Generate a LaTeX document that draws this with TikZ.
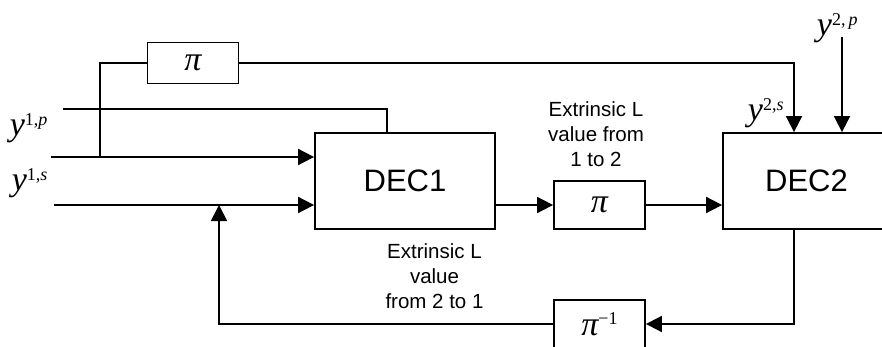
\documentclass[tikz,border=0pt]{standalone}
\usepackage{fontspec}
\setmainfont{Liberation Sans}
\newfontfamily\tms{Liberation Serif}
\usetikzlibrary{arrows.meta}
% received sequence label: italic y with a raised index pair
\newcommand\ysym[2]{{\tms\fontsize{34}{34}\selectfont\itshape y}\raisebox{10pt}{\tms\fontsize{18}{18}\selectfont #1\textit{#2}}}

\begin{document}
\begin{tikzpicture}[x=1pt, y=-1pt, line width=1.8pt,
  blk/.style={draw, rectangle, inner sep=0pt, minimum height=96pt,
              font=\fontsize{31}{31}\selectfont},
  perm/.style={draw, rectangle, inner sep=0pt, minimum width=91pt,
               font=\tms\fontsize{34}{34}\selectfont\itshape},
  sig/.style={-{Triangle[length=16pt,width=16pt]}},
  lbl/.style={inner sep=0pt, anchor=base west},
  note/.style={inner sep=0pt, anchor=north, align=center,
               font=\fontsize{20.5}{25}\selectfont}]
\useasboundingbox (0,0) rectangle (882,347);
\clip (0,0) rectangle (882,347);

% decoders and interleavers
\node[blk, minimum width=180pt] (dec1) at (405,181) {DEC1};
\node[blk, minimum width=167pt] (dec2) at (806.5,181) {DEC2};
\node[perm, minimum height=41pt] (piA) at (193,63) {π};
\node[perm, minimum height=48pt] (piB) at (599.5,205) {π};
\node[perm, minimum height=48pt] (piC) at (599.5,324)
  {π\raisebox{11pt}{\upshape\fontsize{18}{18}\selectfont −1}};

% input labels
\node[lbl] (y1p) at (9,135.5) {\ysym{1,}{p}};
\node[lbl] (y1s) at (11,191) {\ysym{1,}{s}};
\node[lbl] (y2s) at (747,121) {\ysym{2,}{s}};
\node[lbl] (y2p) at (816,36) {\ysym{2,\,}{p}};

% extrinsic information notes
\node[note] (n12) at (596,100.3) {Extrinsic L\\value from\\1 to 2};
\node[note] (n21) at (434.5,242.3) {Extrinsic L\\value\\from 2 to 1};

% wire end points and columns
\coordinate (s1) at (51,157);
\coordinate (s2) at (54,205);
\coordinate (p1) at (63,109);
\coordinate (c1) at (387,0);
\coordinate (br) at (100,157);
\coordinate (fb) at (219,205);
\coordinate (col) at (794,0);
\coordinate (p2) at (842,37);

% connections
\draw (p1) -| (dec1.north -| c1);
\draw[sig] (s1) -- (s1 -| dec1.west);
\draw (br) |- (piA.west);
\draw[sig] (piA.east) -| (dec2.north -| col);
\draw[sig] (s2) -- (s2 -| dec1.west);
\draw[sig] (s2 -| dec1.east) -- (piB.west);
\draw[sig] (piB.east) -- (piB.east -| dec2.west);
\draw[sig] (p2) -- (p2 |- dec2.north);
\draw[sig] (dec2.south -| col) |- (piC.east);
\draw[sig] (piC.west) -| (fb);
\end{tikzpicture}
\end{document}
